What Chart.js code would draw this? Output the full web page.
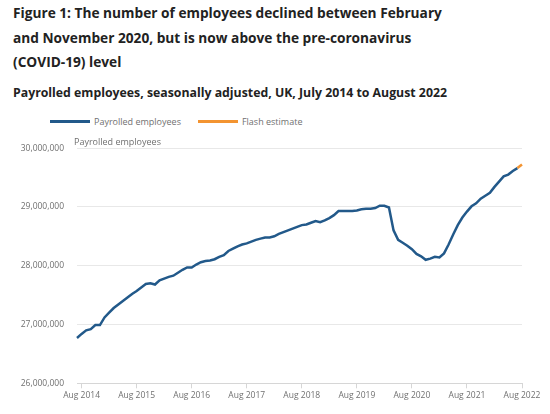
<!DOCTYPE html>
<html>
<head>
<meta charset="utf-8">
<script src="https://cdn.jsdelivr.net/npm/chart.js@4.4.0/dist/chart.umd.min.js"></script>
<style>
  body { margin: 0; width: 550px; height: 414px; background: #fff; font-family: "Open Sans", sans-serif; position: relative; overflow: hidden; }
  h1 { position: absolute; left: 13px; top: 1px; margin: 0; font-size: 13.7px; line-height: 24.5px; font-weight: 700; color: #222; }
  h2 { position: absolute; left: 13px; top: 83px; margin: 0; font-size: 12.3px; line-height: 20px; font-weight: 700; color: #222; }
  .legend { position: absolute; left: 50px; top: 115px; font-size: 9px; color: #707070; display: flex; align-items: center; }
  .legend .key { display: inline-block; width: 40px; height: 3px; margin-right: 4px; }
  .legend .item { display: flex; align-items: center; margin-right: 17px; }
  .axis-title { position: absolute; left: 74px; top: 135px; font-size: 9px; color: #707070; }
  #wrap { position: absolute; left: 0; top: 130px; width: 550px; height: 284px; }
</style>
</head>
<body>
<h1>Figure 1: The number of employees declined between February<br>and November 2020, but is now above the pre-coronavirus<br>(COVID-19) level</h1>
<h2>Payrolled employees, seasonally adjusted, UK, July 2014 to August 2022</h2>
<div class="legend">
  <span class="item"><span class="key" style="background:#22598a"></span>Payrolled employees</span>
  <span class="item"><span class="key" style="background:#f39431"></span>Flash estimate</span>
</div>
<div id="wrap"><canvas id="payrollChart"></canvas></div>
<div class="axis-title">Payrolled employees</div>
<script>
// Payrolled employees, monthly, Jul 2014 - Jul 2022
const employees = [
  26770000, 26840000, 26900000, 26920000, 26990000, 26990000, 27120000, 27200000, 27280000, 27340000, 27400000, 27460000,
  27520000, 27570000, 27630000, 27690000, 27700000, 27680000, 27750000, 27780000, 27810000, 27830000, 27880000, 27930000,
  27970000, 27970000, 28020000, 28060000, 28080000, 28090000, 28110000, 28150000, 28180000, 28250000, 28290000, 28330000,
  28360000, 28380000, 28410000, 28440000, 28460000, 28480000, 28480000, 28500000, 28540000, 28570000, 28600000, 28630000,
  28660000, 28690000, 28700000, 28730000, 28760000, 28740000, 28770000, 28810000, 28860000, 28930000, 28930000, 28930000,
  28930000, 28940000, 28960000, 28970000, 28970000, 28980000, 29020000, 29020000, 28990000, 28600000, 28440000, 28390000,
  28340000, 28280000, 28200000, 28160000, 28100000, 28120000, 28150000, 28140000, 28210000, 28360000, 28530000, 28690000,
  28820000, 28920000, 29010000, 29060000, 29140000, 29190000, 29240000, 29340000, 29430000, 29520000, 29550000, 29610000,
  29660000
];
// Flash estimate: Jul 2022 (joins main series) and Aug 2022
const flash = [29660000, 29720000];

const monthNames = ['Jan', 'Feb', 'Mar', 'Apr', 'May', 'Jun', 'Jul', 'Aug', 'Sep', 'Oct', 'Nov', 'Dec'];
const tickLabels = ['Aug 2014', 'Aug 2015', 'Aug 2016', 'Aug 2017', 'Aug 2018', 'Aug 2019', 'Aug 2020', 'Aug 2021', 'Aug 2022'];

const labels = [];
for (let i = 0; i < employees.length + 1; i++) {
  const mi = (6 + i) % 12;
  const yr = 2014 + Math.floor((6 + i) / 12);
  labels.push(monthNames[mi] + ' ' + yr);
}
const flashData = Array(labels.length - flash.length).fill(null).concat(flash);

const grey = '#707070';
const ctx = document.getElementById('payrollChart').getContext('2d');
new Chart(ctx, {
  type: 'line',
  data: {
    labels: labels,
    datasets: [
      {
        label: 'Flash estimate',
        data: flashData,
        borderColor: '#f39431',
        borderWidth: 2.5,
        pointRadius: 0,
        tension: 0
      },
      {
        label: 'Payrolled employees',
        data: employees,
        borderColor: '#22598a',
        borderWidth: 2.5,
        pointRadius: 0,
        tension: 0
      }
    ]
  },
  options: {
    responsive: true,
    maintainAspectRatio: false,
    animation: false,
    layout: { padding: { top: 16.7, right: 28, bottom: 6.7, left: 0 } },
    plugins: {
      legend: { display: false },
      tooltip: { enabled: false }
    },
    scales: {
      x: {
        afterFit: s => { s.height = 24; },
        grid: { drawOnChartArea: false, tickLength: 5, color: '#d6d6d6' },
        border: { color: '#d6d6d6' },
        ticks: {
          autoSkip: false,
          maxRotation: 0,
          padding: 2,
          color: grey,
          font: { family: 'Open Sans', size: 8.5 },
          callback: function (v) {
            const l = this.getLabelForValue(v);
            return tickLabels.includes(l) ? l : null;
          }
        }
      },
      y: {
        min: 26000000,
        max: 30000000,
        afterFit: s => { s.width = 77; },
        grid: { drawTicks: false, color: '#e8e8e8' },
        border: { display: false },
        ticks: {
          stepSize: 1000000,
          padding: 13,
          color: grey,
          font: { family: 'Open Sans', size: 8.5 },
          callback: v => v.toLocaleString('en-GB')
        }
      }
    }
  }
});
</script>
</body>
</html>
